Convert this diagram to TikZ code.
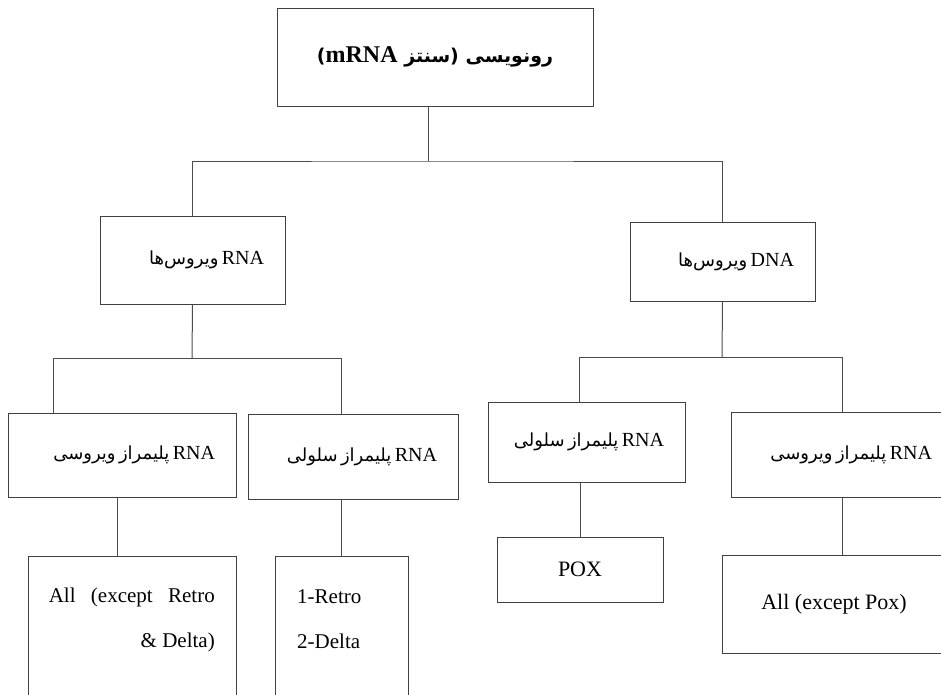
\documentclass[tikz,border=0pt]{standalone}
\usepackage{fontspec}
\setmainfont{Liberation Serif}
\newfontfamily\fa[Script=Arabic]{DejaVu Sans}
\TeXXeTstate=1
\usetikzlibrary{positioning,calc}

\newcommand{\en}[1]{{\rmfamily\fontsize{20}{24}\selectfont #1}}
\newcommand{\fatext}[1]{{\fa\fontsize{18}{22}\selectfont\beginR #1\endR}}

\begin{document}
\begin{tikzpicture}[x=1pt, y=-1pt,
            box/.style={draw=black!75, line width=1pt, rectangle, inner sep=0pt, align=center},
            rtl/.style={align=right, text width=#1, inner xsep=21pt},
            link/.style={draw=black!70, line width=1pt},
            leaf/.style={inner sep=0pt, font=\fontsize{21}{45}\selectfont}
            ]
            \useasboundingbox (0,0) rectangle (941,694);
            \clip (0,0) rectangle (941,694);

            % Nodes with manual coordinates
            \node[box, minimum width=316pt, minimum height=98pt] (root) at (435,57)
                {{\fa\bfseries\fontsize{19}{22}\selectfont\beginR رونویسی (سنتز {\rmfamily\fontsize{24}{26}\selectfont mRNA})\endR}};
            \node[box, rtl=143pt, minimum width=185pt, minimum height=88pt] (rnav) at (192.5,260)
                {\fatext{\en{RNA} ویروس^^^^200cها}};
            \node[box, rtl=143pt, minimum width=185pt, minimum height=79pt] (dnav) at (722.5,261.5)
                {\fatext{\en{DNA} ویروس^^^^200cها}};

            \node[box, rtl=186pt, minimum width=228pt, minimum height=84pt] (pa) at (122,455)
                {\fatext{\en{RNA} پلیمراز ویروسی}};
            \node[box, rtl=168pt, minimum width=210pt, minimum height=85pt] (pb) at (353,456.5)
                {\fatext{\en{RNA} پلیمراز سلولی}};
            \node[box, rtl=155pt, minimum width=197pt, minimum height=80pt] (pc) at (586.5,442)
                {\fatext{\en{RNA} پلیمراز سلولی}};
            \node[box, rtl=180pt, minimum width=222pt, minimum height=85pt] (pd) at (842,454.5)
                {\fatext{\en{RNA} پلیمراز ویروسی}};

            \node[box, font=\fontsize{22}{26}\selectfont, minimum width=166pt, minimum height=65pt] (pox) at (580,569.5) {POX};
            \node[box, font=\fontsize{22}{26}\selectfont, minimum width=224pt, minimum height=98pt] (pe) at (834,604) {All (except Pox)};
            \node[box, minimum width=208pt, minimum height=160pt] (pf) at (132,636) {};
            \node[box, minimum width=133pt, minimum height=160pt] (pg) at (341.5,636) {};
            \node[leaf, anchor=east, align=right] (pftext) at (215,619.5)
                {\makebox[166pt][s]{All (except Retro}\\\& Delta)};
            \node[leaf, anchor=west, align=left] (pgtext) at (297,619.5) {1-Retro\\2-Delta};

            % Connectors
            \coordinate (bus1) at (428,161);
            \coordinate (bus2) at (192,358);
            \coordinate (bus3) at (722,357);
            \coordinate (dropa) at (53,358);
            \coordinate (dropb) at (341,358);
            \coordinate (dropc) at (579,357);

            \draw[link] (root.south -| bus1) -- (bus1);
            \draw[link] (rnav.north) |- (bus1) -| (dnav.north);
            \draw[link] (rnav.south) -- (bus2);
            \draw[link] (dropa |- pa.north) -- (dropa) -- (dropb) -- (dropb |- pb.north);
            \draw[link] (dnav.south) -- (bus3);
            \draw[link] (dropc |- pc.north) -- (dropc) -- (bus3 -| pd.north) -- (pd.north);
            \draw[link] ([xshift=-5pt]pa.south) -- ([xshift=-5pt]pa.south |- pf.north);
            \draw[link] (pb.south -| pg.north) -- (pg.north);
            \draw[link] (pc.south -| pox.north) -- (pox.north);
            \draw[link] (pd.south) -- (pd.south |- pe.north);
        \end{tikzpicture}
\end{document}
